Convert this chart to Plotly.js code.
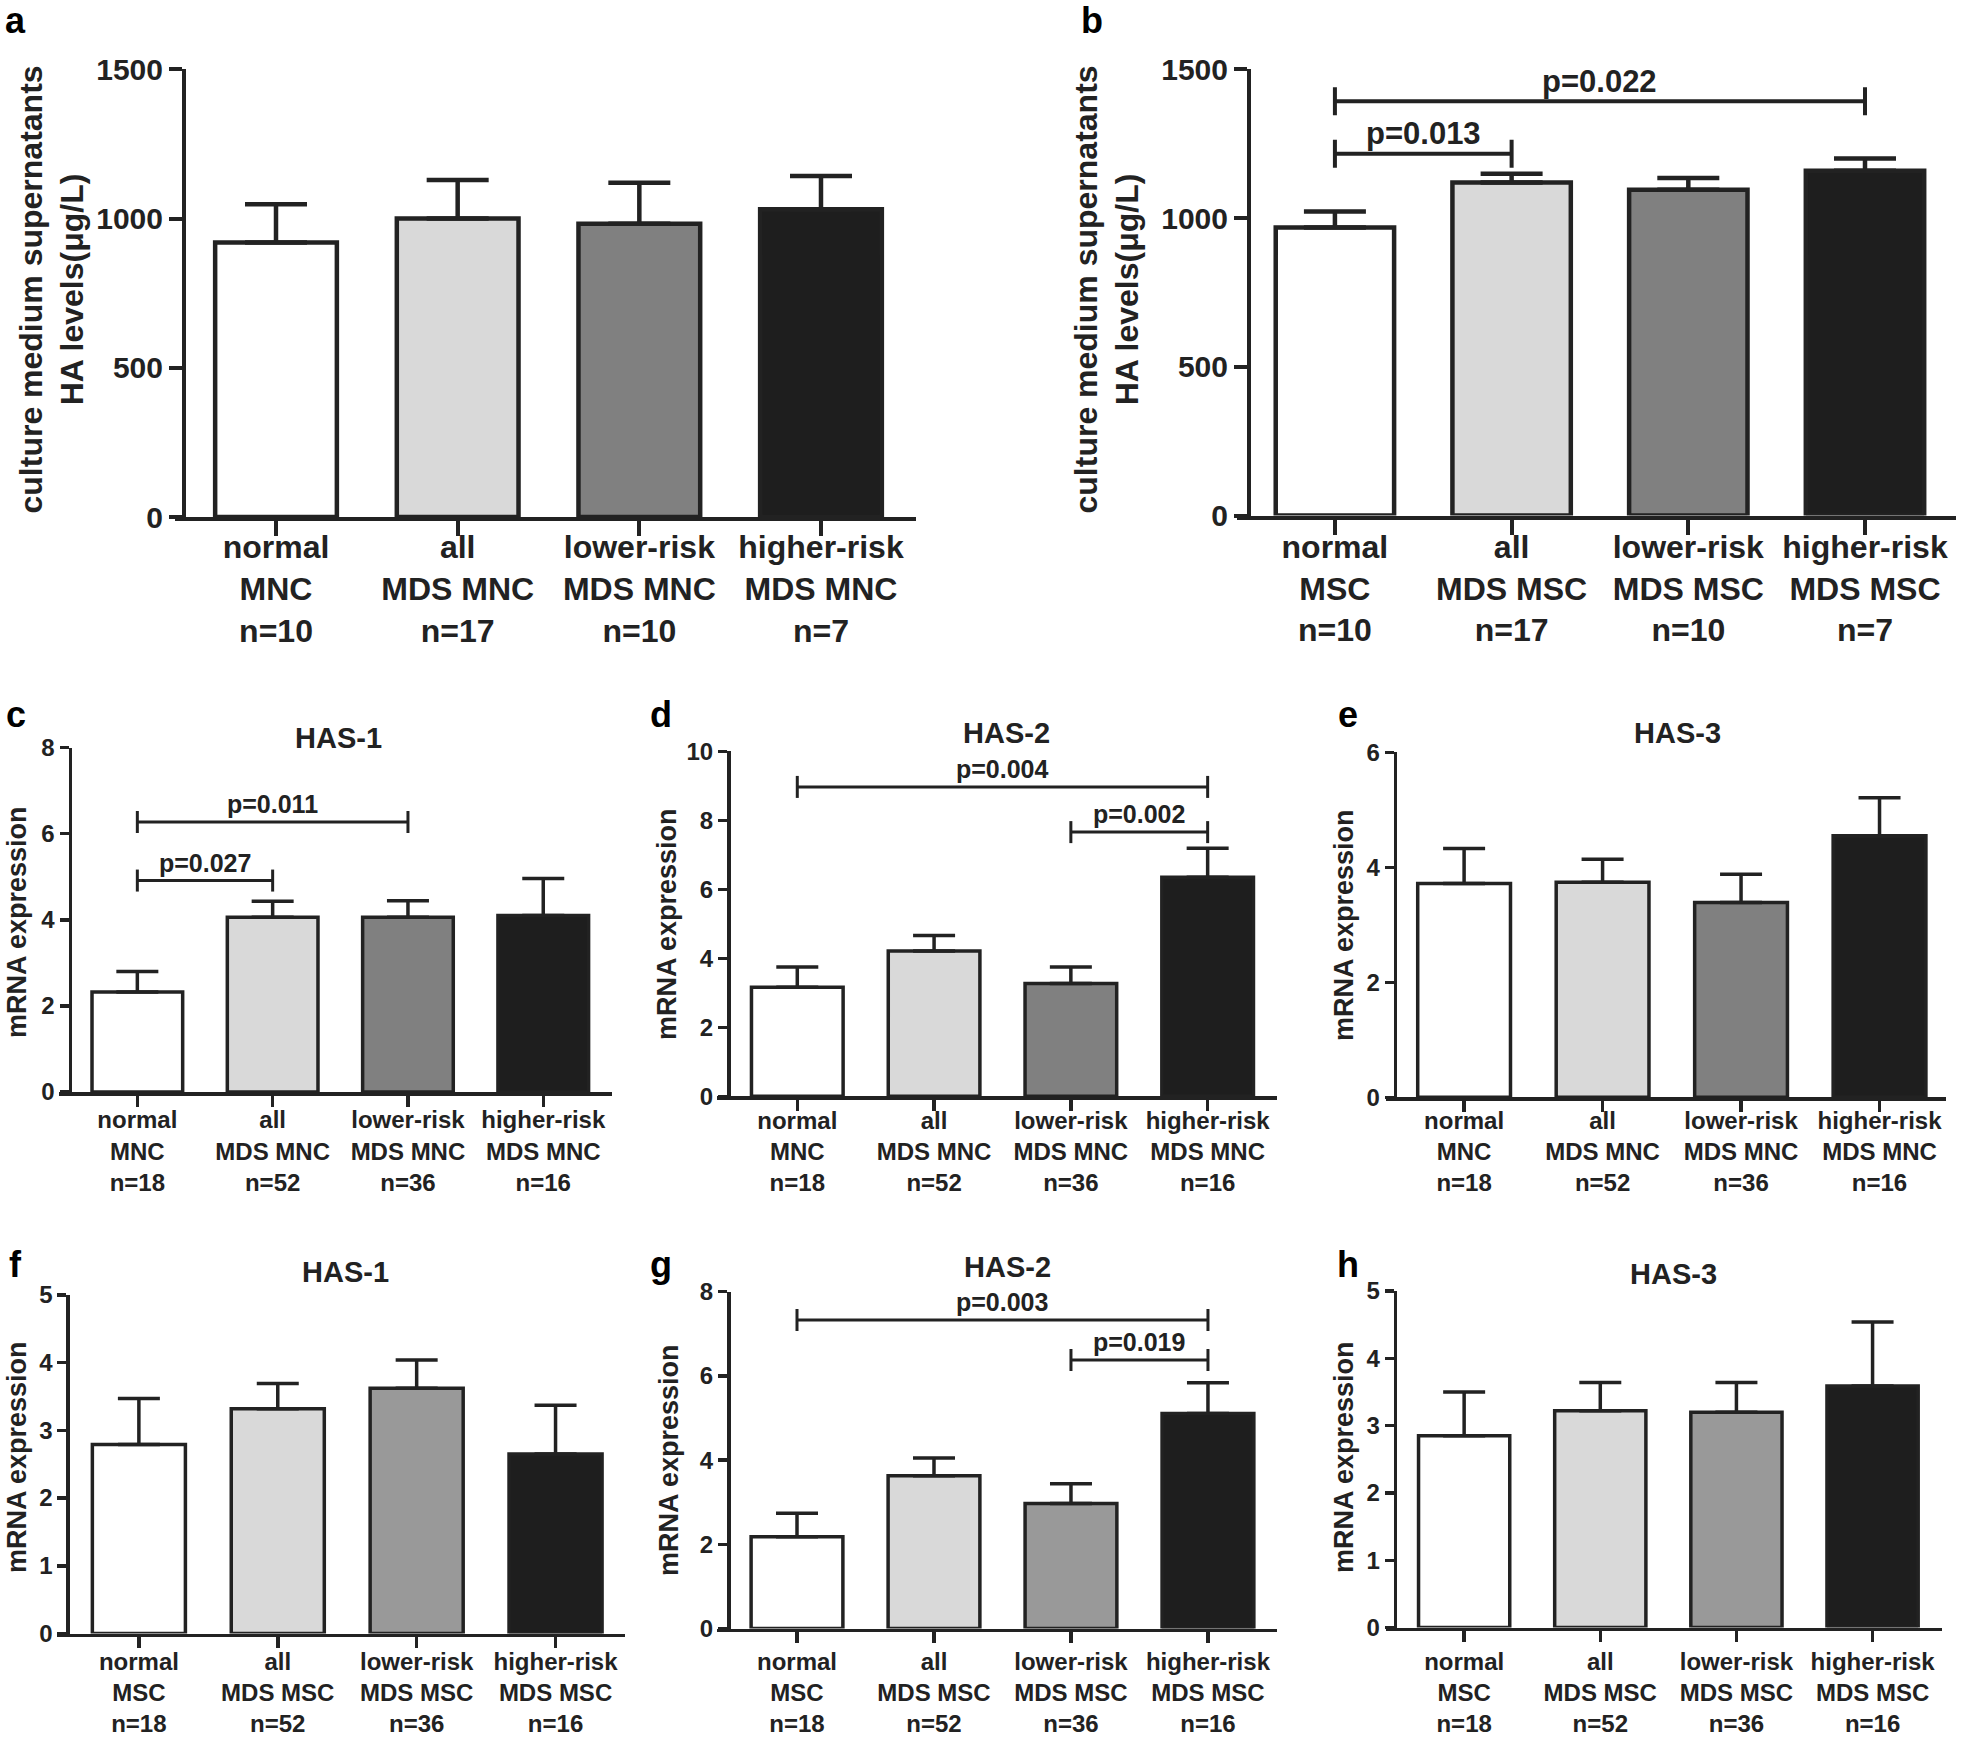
<!DOCTYPE html>
<html><head><meta charset="utf-8">
<script src="https://cdn.plot.ly/plotly-3.0.1.min.js"></script>
<style>html,body{margin:0;padding:0;background:#fff;}</style>
</head><body>
<div id="chart" style="width:1961px;height:1739px;"></div>
<script>
// ---------- DATA ----------
const labelsA = ["normal<br>MNC<br>n=10", "all<br>MDS MNC<br>n=17", "lower-risk<br>MDS MNC<br>n=10", "higher-risk<br>MDS MNC<br>n=7"];
const labelsB = ["normal<br>MSC<br>n=10", "all<br>MDS MSC<br>n=17", "lower-risk<br>MDS MSC<br>n=10", "higher-risk<br>MDS MSC<br>n=7"];
const labelsMNC = ["normal<br>MNC<br>n=18", "all<br>MDS MNC<br>n=52", "lower-risk<br>MDS MNC<br>n=36", "higher-risk<br>MDS MNC<br>n=16"];
const labelsMSC = ["normal<br>MSC<br>n=18", "all<br>MDS MSC<br>n=52", "lower-risk<br>MDS MSC<br>n=36", "higher-risk<br>MDS MSC<br>n=16"];

const meanA = [920, 1000, 983, 1031];
const semA  = [128, 129, 137, 112];
const meanB = [968, 1120, 1095, 1159];
const semB  = [54, 29, 40, 41];
const meanC = [2.32, 4.06, 4.06, 4.10];
const semC  = [0.48, 0.37, 0.38, 0.86];
const meanD = [3.16, 4.21, 3.27, 6.35];
const semD  = [0.59, 0.45, 0.48, 0.84];
const meanE = [3.72, 3.74, 3.39, 4.55];
const semE  = [0.61, 0.40, 0.49, 0.66];
const meanF = [2.79, 3.32, 3.62, 2.65];
const semF  = [0.68, 0.37, 0.42, 0.72];
const meanG = [2.18, 3.63, 2.97, 5.11];
const semG  = [0.56, 0.42, 0.47, 0.73];
const meanH = [2.85, 3.22, 3.20, 3.59];
const semH  = [0.65, 0.42, 0.44, 0.95];

// significance brackets: from group, to group, height, label
const bracketFromB = [0, 0],  bracketToB = [1, 3], bracketYB = [1216, 1393], bracketTextB = ["p=0.013", "p=0.022"];
const bracketFromC = [0, 0],  bracketToC = [1, 2], bracketYC = [4.91, 6.27], bracketTextC = ["p=0.027", "p=0.011"];
const bracketFromD = [0, 2],  bracketToD = [3, 3], bracketYD = [8.97, 7.66], bracketTextD = ["p=0.004", "p=0.002"];
const bracketFromG = [0, 2],  bracketToG = [3, 3], bracketYG = [7.33, 6.38], bracketTextG = ["p=0.003", "p=0.019"];

const groupX = [0, 1, 2, 3];

// ---------- STYLE / LAYOUT ----------
const W = 1961, H = 1739;
const FONT = "Liberation Sans, Arial, Helvetica, sans-serif";
const INK = "#222222";
const colsTop = ["#ffffff", "#d9d9d9", "#808080", "#1e1e1e"];
const colsBot = ["#ffffff", "#d9d9d9", "#999999", "#1e1e1e"];

const panels = [
  {letter:"a", lp:[15.5,21], labels:labelsA, mean:meanA, sem:semA, ymax:1500, dtick:500, xd:[175,916], yx:184, yd:[69.4,517], xr:[-0.556,3.523], cols:colsTop, big:true, so:-16,
   ytitle:"culture medium supernatants<br>HA levels(μg/L)", yt:[51.5,290]},
  {letter:"b", lp:[1092,21], labels:labelsB, mean:meanB, sem:semB, ymax:1500, dtick:500, xd:[1236.5,1956], yx:1249, yd:[69.4,515.5], xr:[-0.557,3.515], cols:colsTop, big:true, so:-15,
   ytitle:"culture medium supernatants<br>HA levels(μg/L)", yt:[1106.5,290],
   br:{from:bracketFromB, to:bracketToB, y:bracketYB, text:bracketTextB}},
  {letter:"c", lp:[15.5,714], title:"HAS-1", tp:[338,738], labels:labelsMNC, mean:meanC, sem:semC, ymax:8, dtick:2, xd:[59,612], yx:69.5, yd:[747.5,1092], xr:[-0.579,3.508], cols:colsTop, so:-7,
   ytitle:"mRNA expression", yt:[17,922], br:{from:bracketFromC, to:bracketToC, y:bracketYC, text:bracketTextC}},
  {letter:"d", lp:[661,714], title:"HAS-2", tp:[1006,733], labels:labelsMNC, mean:meanD, sem:semD, ymax:10, dtick:2, xd:[717,1277], yx:728, yd:[751.4,1096.3], xr:[-0.587,3.507], cols:colsTop, so:-11,
   ytitle:"mRNA expression", yt:[667,924], br:{from:bracketFromD, to:bracketToD, y:bracketYD, text:bracketTextD}},
  {letter:"e", lp:[1348,714], title:"HAS-3", tp:[1677,733], labels:labelsMNC, mean:meanE, sem:semE, ymax:6, dtick:2, xd:[1386,1946], yx:1394.7, yd:[752.4,1097.3], xr:[-0.564,3.48], cols:colsTop, so:-12,
   ytitle:"mRNA expression", yt:[1344,925]},
  {letter:"f", lp:[15,1264], title:"HAS-1", tp:[345,1272], labels:labelsMSC, mean:meanF, sem:semF, ymax:5, dtick:1, xd:[56.8,625], yx:67.3, yd:[1294.9,1633.5], xr:[-0.591,3.5], cols:colsBot, so:-7,
   ytitle:"mRNA expression", yt:[17,1457]},
  {letter:"g", lp:[661,1264], title:"HAS-2", tp:[1007,1267], labels:labelsMSC, mean:meanG, sem:semG, ymax:8, dtick:2, xd:[717,1277], yx:728, yd:[1291.7,1628.6], xr:[-0.584,3.504], cols:colsBot, so:-2,
   ytitle:"mRNA expression", yt:[669,1460], br:{from:bracketFromG, to:bracketToG, y:bracketYG, text:bracketTextG}},
  {letter:"h", lp:[1348,1264], title:"HAS-3", tp:[1673,1274], labels:labelsMSC, mean:meanH, sem:semH, ymax:5, dtick:1, xd:[1386,1942], yx:1394.7, yd:[1291,1627.6], xr:[-0.574,3.51], cols:colsBot, so:-1,
   ytitle:"mRNA expression", yt:[1344,1457]}
];

const px = v => v / W;
const py = v => 1 - v / H;

const data = [];
const layout = {
  width: W, height: H,
  margin: {l:0, r:0, t:0, b:0},
  paper_bgcolor: "#ffffff", plot_bgcolor: "rgba(0,0,0,0)",
  showlegend: false,
  font: {family: FONT, color: INK, weight: "bold"},
  annotations: [], shapes: []
};

panels.forEach((p, i) => {
  const n = i === 0 ? "" : String(i + 1);
  const xa = "x" + n, ya = "y" + n;
  const big = !!p.big;
  const lw = big ? 4.5 : 3.5;
  data.push({
    type: "bar", x: groupX, y: p.mean, xaxis: xa, yaxis: ya, width: 0.67,
    marker: {color: p.cols, line: {color: INK, width: lw}},
    error_y: {type: "data", array: p.sem, arrayminus: p.sem.map(() => 0), symmetric: false,
              color: INK, thickness: big ? 4.5 : 3.5, width: big ? 31 : 21},
    hoverinfo: "skip"
  });
  layout["xaxis" + n] = {
    domain: [px(p.xd[0]), px(p.xd[1])], anchor: ya, range: p.xr, fixedrange: true,
    showgrid: false, zeroline: false, showline: true, linecolor: INK, linewidth: big ? 4 : 3.5,
    ticks: "outside", ticklen: big ? 15 : 11, tickwidth: big ? 4 : 3.5, tickcolor: INK,
    tickvals: groupX, ticktext: p.labels, ticklabelstandoff: p.so,
    tickfont: {family: FONT, size: big ? 32 : 24, color: INK, weight: "bold"}
  };
  layout["yaxis" + n] = {
    domain: [py(p.yd[1]), py(p.yd[0])], anchor: "free", position: px(p.yx), range: [0, p.ymax], fixedrange: true,
    showgrid: false, zeroline: false, showline: true, linecolor: INK, linewidth: big ? 4 : 3.5,
    ticks: "outside", ticklen: big ? 13 : 9, tickwidth: big ? 4 : 3.5, tickcolor: INK,
    dtick: p.dtick, tick0: 0,
    tickfont: {family: FONT, size: big ? 30 : 24, color: INK, weight: "bold"}
  };
  // y-axis title
  layout.annotations.push({
    xref: "paper", yref: "paper", x: px(p.yt[0]), y: py(p.yt[1]), xanchor: "center", yanchor: "middle",
    text: p.ytitle, textangle: -90, showarrow: false,
    font: {family: FONT, size: big ? 32 : 27, color: INK, weight: "bold"}
  });
  // panel letter
  layout.annotations.push({
    xref: "paper", yref: "paper", x: px(p.lp[0]), y: py(p.lp[1]), xanchor: "center", yanchor: "middle",
    text: p.letter, showarrow: false, font: {family: FONT, size: 36, color: "#000", weight: "bold"}
  });
  // panel title
  if (p.title) {
    layout.annotations.push({
      xref: "paper", yref: "paper", x: px(p.tp[0]), y: py(p.tp[1]), xanchor: "center", yanchor: "middle",
      text: p.title, showarrow: false, font: {family: FONT, size: 29, color: INK, weight: "bold"}
    });
  }
  // significance brackets
  if (p.br) {
    const capH = big ? 14 : 11;
    const blw = big ? 4 : 3;
    p.br.y.forEach((yy, k) => {
      const x0 = p.br.from[k], x1 = p.br.to[k];
      layout.shapes.push({type: "line", xref: xa, yref: ya, x0: x0, x1: x1, y0: yy, y1: yy, line: {color: INK, width: blw}});
      [x0, x1].forEach(xc => layout.shapes.push({
        type: "line", xref: xa, yref: ya, ysizemode: "pixel", yanchor: yy, x0: xc, x1: xc, y0: -capH, y1: capH,
        line: {color: INK, width: blw}
      }));
      layout.annotations.push({
        xref: xa, yref: ya, x: (x0 + x1) / 2, y: yy, yshift: big ? 20 : 18, xanchor: "center", yanchor: "middle",
        text: p.br.text[k], showarrow: false, font: {family: FONT, size: big ? 31 : 25, color: INK, weight: "bold"}
      });
    });
  }
});

Plotly.newPlot("chart", data, layout, {staticPlot: true, displayModeBar: false});
</script>
</body></html>
